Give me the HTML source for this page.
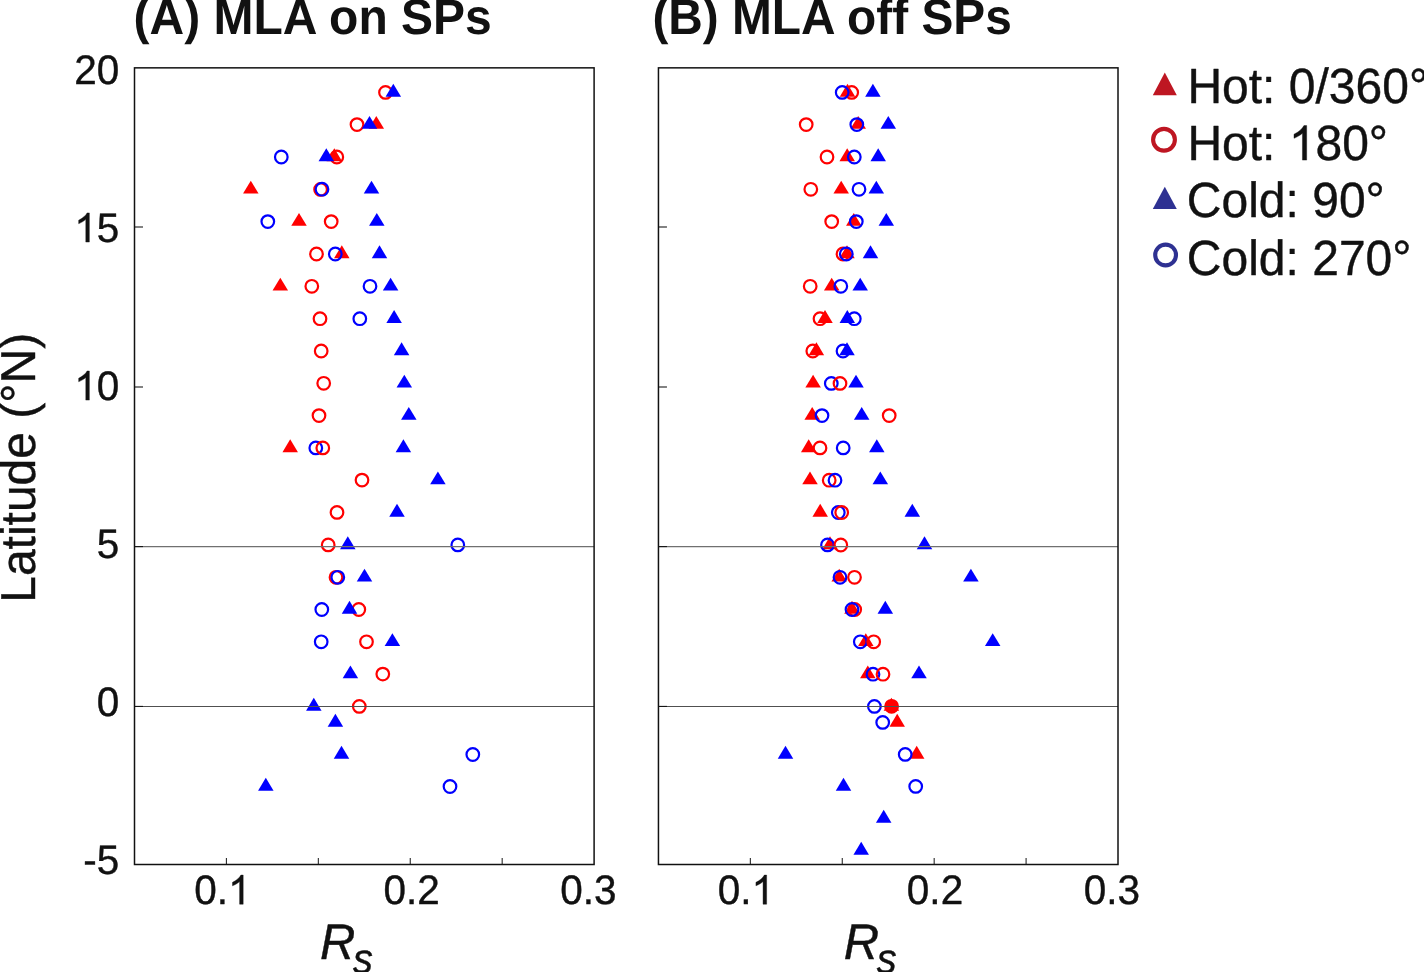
<!DOCTYPE html>
<html><head><meta charset="utf-8"><title>chart</title>
<style>html,body{margin:0;padding:0;background:#fff;overflow:hidden}body{width:1424px;height:972px;position:relative;font-family:"Liberation Sans",sans-serif}</style></head>
<body>
<svg width="1424" height="972" viewBox="0 0 1424 972" style="position:absolute;left:0;top:0;will-change:transform;font-family:'Liberation Sans',sans-serif" text-rendering="geometricPrecision">
<rect width="1424" height="972" fill="#ffffff"/>
<circle cx="385.50" cy="92.40" r="6.3" fill="none" stroke="#ff0000" stroke-width="2.2"/>
<polygon points="385.55,96.65 401.05,96.65 393.30,83.75" fill="#0000ff"/>
<polygon points="368.55,128.85 384.05,128.85 376.30,115.95" fill="#ff0000"/>
<circle cx="357.00" cy="124.60" r="6.3" fill="none" stroke="#ff0000" stroke-width="2.2"/>
<polygon points="361.75,128.85 377.25,128.85 369.50,115.95" fill="#0000ff"/>
<polygon points="326.55,161.25 342.05,161.25 334.30,148.35" fill="#ff0000"/>
<circle cx="336.80" cy="157.00" r="6.3" fill="none" stroke="#ff0000" stroke-width="2.2"/>
<polygon points="318.55,161.25 334.05,161.25 326.30,148.35" fill="#0000ff"/>
<circle cx="281.30" cy="157.00" r="6.3" fill="none" stroke="#0000ff" stroke-width="2.2"/>
<polygon points="243.05,193.55 258.55,193.55 250.80,180.65" fill="#ff0000"/>
<circle cx="320.60" cy="189.40" r="6.3" fill="none" stroke="#ff0000" stroke-width="2.2"/>
<polygon points="363.75,193.55 379.25,193.55 371.50,180.65" fill="#0000ff"/>
<circle cx="322.00" cy="189.20" r="6.3" fill="none" stroke="#0000ff" stroke-width="2.2"/>
<polygon points="291.25,225.85 306.75,225.85 299.00,212.95" fill="#ff0000"/>
<circle cx="331.20" cy="221.60" r="6.3" fill="none" stroke="#ff0000" stroke-width="2.2"/>
<polygon points="369.05,225.85 384.55,225.85 376.80,212.95" fill="#0000ff"/>
<circle cx="267.80" cy="221.60" r="6.3" fill="none" stroke="#0000ff" stroke-width="2.2"/>
<polygon points="334.05,258.25 349.55,258.25 341.80,245.35" fill="#ff0000"/>
<circle cx="316.50" cy="254.00" r="6.3" fill="none" stroke="#ff0000" stroke-width="2.2"/>
<polygon points="371.75,258.25 387.25,258.25 379.50,245.35" fill="#0000ff"/>
<circle cx="335.30" cy="254.00" r="6.3" fill="none" stroke="#0000ff" stroke-width="2.2"/>
<polygon points="272.55,290.55 288.05,290.55 280.30,277.65" fill="#ff0000"/>
<circle cx="311.80" cy="286.30" r="6.3" fill="none" stroke="#ff0000" stroke-width="2.2"/>
<polygon points="382.85,290.55 398.35,290.55 390.60,277.65" fill="#0000ff"/>
<circle cx="370.00" cy="286.30" r="6.3" fill="none" stroke="#0000ff" stroke-width="2.2"/>
<circle cx="320.00" cy="318.70" r="6.3" fill="none" stroke="#ff0000" stroke-width="2.2"/>
<polygon points="386.35,322.95 401.85,322.95 394.10,310.05" fill="#0000ff"/>
<circle cx="359.80" cy="318.70" r="6.3" fill="none" stroke="#0000ff" stroke-width="2.2"/>
<circle cx="321.20" cy="351.00" r="6.3" fill="none" stroke="#ff0000" stroke-width="2.2"/>
<polygon points="393.85,355.25 409.35,355.25 401.60,342.35" fill="#0000ff"/>
<circle cx="323.70" cy="383.30" r="6.3" fill="none" stroke="#ff0000" stroke-width="2.2"/>
<polygon points="396.55,387.55 412.05,387.55 404.30,374.65" fill="#0000ff"/>
<circle cx="319.00" cy="415.60" r="6.3" fill="none" stroke="#ff0000" stroke-width="2.2"/>
<polygon points="401.05,419.85 416.55,419.85 408.80,406.95" fill="#0000ff"/>
<polygon points="282.45,452.15 297.95,452.15 290.20,439.25" fill="#ff0000"/>
<circle cx="315.80" cy="447.90" r="6.3" fill="none" stroke="#0000ff" stroke-width="2.2"/>
<circle cx="322.80" cy="447.90" r="6.3" fill="none" stroke="#ff0000" stroke-width="2.2"/>
<polygon points="395.65,452.15 411.15,452.15 403.40,439.25" fill="#0000ff"/>
<circle cx="362.00" cy="480.10" r="6.3" fill="none" stroke="#ff0000" stroke-width="2.2"/>
<polygon points="430.15,484.35 445.65,484.35 437.90,471.45" fill="#0000ff"/>
<circle cx="337.00" cy="512.40" r="6.3" fill="none" stroke="#ff0000" stroke-width="2.2"/>
<polygon points="389.25,516.65 404.75,516.65 397.00,503.75" fill="#0000ff"/>
<circle cx="328.20" cy="544.90" r="6.3" fill="none" stroke="#ff0000" stroke-width="2.2"/>
<polygon points="340.05,549.15 355.55,549.15 347.80,536.25" fill="#0000ff"/>
<circle cx="457.80" cy="544.90" r="6.3" fill="none" stroke="#0000ff" stroke-width="2.2"/>
<circle cx="336.00" cy="577.30" r="6.3" fill="none" stroke="#ff0000" stroke-width="2.2"/>
<polygon points="356.75,581.55 372.25,581.55 364.50,568.65" fill="#0000ff"/>
<circle cx="337.80" cy="577.30" r="6.3" fill="none" stroke="#0000ff" stroke-width="2.2"/>
<circle cx="358.80" cy="609.50" r="6.3" fill="none" stroke="#ff0000" stroke-width="2.2"/>
<polygon points="341.75,613.75 357.25,613.75 349.50,600.85" fill="#0000ff"/>
<circle cx="321.80" cy="609.50" r="6.3" fill="none" stroke="#0000ff" stroke-width="2.2"/>
<circle cx="366.50" cy="641.80" r="6.3" fill="none" stroke="#ff0000" stroke-width="2.2"/>
<polygon points="384.65,646.05 400.15,646.05 392.40,633.15" fill="#0000ff"/>
<circle cx="321.20" cy="641.80" r="6.3" fill="none" stroke="#0000ff" stroke-width="2.2"/>
<circle cx="382.80" cy="674.10" r="6.3" fill="none" stroke="#ff0000" stroke-width="2.2"/>
<polygon points="342.65,678.35 358.15,678.35 350.40,665.45" fill="#0000ff"/>
<circle cx="359.30" cy="706.40" r="6.3" fill="none" stroke="#ff0000" stroke-width="2.2"/>
<polygon points="306.05,710.65 321.55,710.65 313.80,697.75" fill="#0000ff"/>
<polygon points="327.65,726.65 343.15,726.65 335.40,713.75" fill="#0000ff"/>
<polygon points="333.75,758.65 349.25,758.65 341.50,745.75" fill="#0000ff"/>
<circle cx="472.80" cy="754.50" r="6.3" fill="none" stroke="#0000ff" stroke-width="2.2"/>
<polygon points="258.05,790.75 273.55,790.75 265.80,777.85" fill="#0000ff"/>
<circle cx="450.00" cy="786.50" r="6.3" fill="none" stroke="#0000ff" stroke-width="2.2"/>
<line x1="134.5" y1="546.6" x2="594.1" y2="546.6" stroke="#707070" stroke-width="1.1"/>
<line x1="134.5" y1="706.45" x2="594.1" y2="706.45" stroke="#505050" stroke-width="1.1"/>
<line x1="226.42" y1="864.5" x2="226.42" y2="857.90" stroke="#2a2a2a" stroke-width="1.1"/>
<line x1="318.34" y1="864.5" x2="318.34" y2="857.90" stroke="#2a2a2a" stroke-width="1.1"/>
<line x1="410.26" y1="864.5" x2="410.26" y2="857.90" stroke="#2a2a2a" stroke-width="1.1"/>
<line x1="502.18" y1="864.5" x2="502.18" y2="857.90" stroke="#2a2a2a" stroke-width="1.1"/>
<line x1="134.5" y1="227.0" x2="143.0" y2="227.0" stroke="#111" stroke-width="1.05"/>
<line x1="134.5" y1="387.0" x2="143.0" y2="387.0" stroke="#111" stroke-width="1.05"/>
<line x1="134.5" y1="546.6" x2="143.0" y2="546.6" stroke="#111" stroke-width="1.05"/>
<line x1="134.5" y1="706.4" x2="143.0" y2="706.4" stroke="#111" stroke-width="1.05"/>
<rect x="134.5" y="67.85" width="459.60" height="796.65" fill="none" stroke="#111" stroke-width="1.5"/>
<text transform="translate(194.30,904.20) scale(1,1.02)" font-size="40.5" fill="#111" stroke="#111" stroke-width="0.4" stroke-linejoin="round">0.</text>
<path transform="translate(228.08,904.20) scale(0.01978,-0.01978)" d="M763 0H583V1147Q518 1085 412.5 1023Q307 961 223 930V1104Q374 1175 487 1276Q600 1377 647 1472H763Z" fill="#111" stroke="#111" stroke-width="0.4" vector-effect="non-scaling-stroke"/>
<text transform="translate(383.40,904.20) scale(1,1.02)" font-size="40.5" fill="#111" stroke="#111" stroke-width="0.4" stroke-linejoin="round">0.2</text>
<text transform="translate(560.30,904.20) scale(1,1.02)" font-size="40.5" fill="#111" stroke="#111" stroke-width="0.4" stroke-linejoin="round">0.3</text>
<polygon points="839.75,96.65 855.25,96.65 847.50,83.75" fill="#ff0000"/>
<circle cx="851.70" cy="92.40" r="6.3" fill="none" stroke="#ff0000" stroke-width="2.2"/>
<polygon points="865.15,96.65 880.65,96.65 872.90,83.75" fill="#0000ff"/>
<circle cx="842.20" cy="92.40" r="6.3" fill="none" stroke="#0000ff" stroke-width="2.2"/>
<circle cx="806.20" cy="124.60" r="6.3" fill="none" stroke="#ff0000" stroke-width="2.2"/>
<polygon points="850.45,128.85 865.95,128.85 858.20,115.95" fill="#ff0000"/>
<polygon points="880.55,128.85 896.05,128.85 888.30,115.95" fill="#0000ff"/>
<circle cx="856.80" cy="124.60" r="6.3" fill="none" stroke="#0000ff" stroke-width="2.2"/>
<circle cx="827.00" cy="157.00" r="6.3" fill="none" stroke="#ff0000" stroke-width="2.2"/>
<polygon points="839.45,161.25 854.95,161.25 847.20,148.35" fill="#ff0000"/>
<polygon points="870.45,161.25 885.95,161.25 878.20,148.35" fill="#0000ff"/>
<circle cx="854.30" cy="157.00" r="6.3" fill="none" stroke="#0000ff" stroke-width="2.2"/>
<circle cx="810.80" cy="189.30" r="6.3" fill="none" stroke="#ff0000" stroke-width="2.2"/>
<polygon points="833.45,193.55 848.95,193.55 841.20,180.65" fill="#ff0000"/>
<polygon points="868.55,193.55 884.05,193.55 876.30,180.65" fill="#0000ff"/>
<circle cx="859.00" cy="189.30" r="6.3" fill="none" stroke="#0000ff" stroke-width="2.2"/>
<circle cx="831.70" cy="221.60" r="6.3" fill="none" stroke="#ff0000" stroke-width="2.2"/>
<polygon points="846.05,225.85 861.55,225.85 853.80,212.95" fill="#ff0000"/>
<polygon points="878.55,225.85 894.05,225.85 886.30,212.95" fill="#0000ff"/>
<circle cx="856.30" cy="221.60" r="6.3" fill="none" stroke="#0000ff" stroke-width="2.2"/>
<circle cx="843.00" cy="254.00" r="6.3" fill="none" stroke="#ff0000" stroke-width="2.2"/>
<polygon points="839.25,258.25 854.75,258.25 847.00,245.35" fill="#ff0000"/>
<polygon points="862.75,258.25 878.25,258.25 870.50,245.35" fill="#0000ff"/>
<circle cx="846.30" cy="254.00" r="6.3" fill="none" stroke="#0000ff" stroke-width="2.2"/>
<circle cx="810.20" cy="286.30" r="6.3" fill="none" stroke="#ff0000" stroke-width="2.2"/>
<polygon points="823.95,290.55 839.45,290.55 831.70,277.65" fill="#ff0000"/>
<polygon points="852.45,290.55 867.95,290.55 860.20,277.65" fill="#0000ff"/>
<circle cx="840.80" cy="286.30" r="6.3" fill="none" stroke="#0000ff" stroke-width="2.2"/>
<circle cx="820.00" cy="318.70" r="6.3" fill="none" stroke="#ff0000" stroke-width="2.2"/>
<polygon points="817.25,322.95 832.75,322.95 825.00,310.05" fill="#ff0000"/>
<circle cx="854.30" cy="318.70" r="6.3" fill="none" stroke="#0000ff" stroke-width="2.2"/>
<polygon points="839.55,322.95 855.05,322.95 847.30,310.05" fill="#0000ff"/>
<circle cx="812.80" cy="351.00" r="6.3" fill="none" stroke="#ff0000" stroke-width="2.2"/>
<polygon points="808.65,355.25 824.15,355.25 816.40,342.35" fill="#ff0000"/>
<circle cx="843.00" cy="351.00" r="6.3" fill="none" stroke="#0000ff" stroke-width="2.2"/>
<polygon points="839.25,355.25 854.75,355.25 847.00,342.35" fill="#0000ff"/>
<polygon points="805.35,387.55 820.85,387.55 813.10,374.65" fill="#ff0000"/>
<circle cx="831.30" cy="383.40" r="6.3" fill="none" stroke="#0000ff" stroke-width="2.2"/>
<circle cx="840.00" cy="383.40" r="6.3" fill="none" stroke="#ff0000" stroke-width="2.2"/>
<polygon points="848.25,387.55 863.75,387.55 856.00,374.65" fill="#0000ff"/>
<polygon points="804.45,419.85 819.95,419.85 812.20,406.95" fill="#ff0000"/>
<circle cx="822.00" cy="415.60" r="6.3" fill="none" stroke="#0000ff" stroke-width="2.2"/>
<polygon points="853.95,419.85 869.45,419.85 861.70,406.95" fill="#0000ff"/>
<circle cx="889.20" cy="415.60" r="6.3" fill="none" stroke="#ff0000" stroke-width="2.2"/>
<polygon points="800.95,452.15 816.45,452.15 808.70,439.25" fill="#ff0000"/>
<circle cx="820.00" cy="447.90" r="6.3" fill="none" stroke="#ff0000" stroke-width="2.2"/>
<circle cx="843.20" cy="447.90" r="6.3" fill="none" stroke="#0000ff" stroke-width="2.2"/>
<polygon points="869.05,452.15 884.55,452.15 876.80,439.25" fill="#0000ff"/>
<polygon points="802.25,484.35 817.75,484.35 810.00,471.45" fill="#ff0000"/>
<circle cx="829.20" cy="480.20" r="6.3" fill="none" stroke="#ff0000" stroke-width="2.2"/>
<circle cx="835.00" cy="480.20" r="6.3" fill="none" stroke="#0000ff" stroke-width="2.2"/>
<polygon points="872.55,484.35 888.05,484.35 880.30,471.45" fill="#0000ff"/>
<polygon points="812.45,516.65 827.95,516.65 820.20,503.75" fill="#ff0000"/>
<circle cx="838.30" cy="512.50" r="6.3" fill="none" stroke="#0000ff" stroke-width="2.2"/>
<circle cx="841.70" cy="512.50" r="6.3" fill="none" stroke="#ff0000" stroke-width="2.2"/>
<polygon points="904.55,516.65 920.05,516.65 912.30,503.75" fill="#0000ff"/>
<polygon points="822.25,549.15 837.75,549.15 830.00,536.25" fill="#ff0000"/>
<circle cx="827.50" cy="544.90" r="6.3" fill="none" stroke="#0000ff" stroke-width="2.2"/>
<circle cx="840.80" cy="545.00" r="6.3" fill="none" stroke="#ff0000" stroke-width="2.2"/>
<polygon points="916.75,549.15 932.25,549.15 924.50,536.25" fill="#0000ff"/>
<polygon points="831.45,581.55 846.95,581.55 839.20,568.65" fill="#ff0000"/>
<circle cx="840.00" cy="577.30" r="6.3" fill="none" stroke="#0000ff" stroke-width="2.2"/>
<circle cx="854.50" cy="577.30" r="6.3" fill="none" stroke="#ff0000" stroke-width="2.2"/>
<polygon points="963.15,581.55 978.65,581.55 970.90,568.65" fill="#0000ff"/>
<circle cx="854.70" cy="609.50" r="6.3" fill="none" stroke="#ff0000" stroke-width="2.2"/>
<polygon points="844.25,613.75 859.75,613.75 852.00,600.85" fill="#ff0000"/>
<circle cx="852.00" cy="609.50" r="6.3" fill="none" stroke="#0000ff" stroke-width="2.2"/>
<polygon points="877.55,613.75 893.05,613.75 885.30,600.85" fill="#0000ff"/>
<polygon points="858.05,646.05 873.55,646.05 865.80,633.15" fill="#ff0000"/>
<circle cx="860.30" cy="641.80" r="6.3" fill="none" stroke="#0000ff" stroke-width="2.2"/>
<circle cx="873.70" cy="641.80" r="6.3" fill="none" stroke="#ff0000" stroke-width="2.2"/>
<polygon points="984.95,646.05 1000.45,646.05 992.70,633.15" fill="#0000ff"/>
<polygon points="860.05,678.35 875.55,678.35 867.80,665.45" fill="#ff0000"/>
<circle cx="873.00" cy="674.20" r="6.3" fill="none" stroke="#0000ff" stroke-width="2.2"/>
<circle cx="883.00" cy="674.20" r="6.3" fill="none" stroke="#ff0000" stroke-width="2.2"/>
<polygon points="911.25,678.35 926.75,678.35 919.00,665.45" fill="#0000ff"/>
<polygon points="883.65,710.65 899.15,710.65 891.40,697.75" fill="#ff0000"/>
<circle cx="891.60" cy="706.30" r="7.40" fill="#ff0000"/>
<circle cx="874.40" cy="706.40" r="6.3" fill="none" stroke="#0000ff" stroke-width="2.2"/>
<polygon points="889.45,726.65 904.95,726.65 897.20,713.75" fill="#ff0000"/>
<circle cx="882.70" cy="722.40" r="6.3" fill="none" stroke="#0000ff" stroke-width="2.2"/>
<polygon points="908.95,758.65 924.45,758.65 916.70,745.75" fill="#ff0000"/>
<circle cx="905.20" cy="754.40" r="6.3" fill="none" stroke="#0000ff" stroke-width="2.2"/>
<polygon points="777.75,758.65 793.25,758.65 785.50,745.75" fill="#0000ff"/>
<polygon points="835.75,790.75 851.25,790.75 843.50,777.85" fill="#0000ff"/>
<circle cx="915.70" cy="786.40" r="6.3" fill="none" stroke="#0000ff" stroke-width="2.2"/>
<polygon points="875.95,822.75 891.45,822.75 883.70,809.85" fill="#0000ff"/>
<polygon points="853.45,854.75 868.95,854.75 861.20,841.85" fill="#0000ff"/>
<line x1="658.45" y1="546.6" x2="1118.0" y2="546.6" stroke="#707070" stroke-width="1.1"/>
<line x1="658.45" y1="706.45" x2="1118.0" y2="706.45" stroke="#505050" stroke-width="1.1"/>
<line x1="750.36" y1="864.5" x2="750.36" y2="857.90" stroke="#2a2a2a" stroke-width="1.1"/>
<line x1="842.27" y1="864.5" x2="842.27" y2="857.90" stroke="#2a2a2a" stroke-width="1.1"/>
<line x1="934.18" y1="864.5" x2="934.18" y2="857.90" stroke="#2a2a2a" stroke-width="1.1"/>
<line x1="1026.09" y1="864.5" x2="1026.09" y2="857.90" stroke="#2a2a2a" stroke-width="1.1"/>
<line x1="658.45" y1="227.0" x2="666.95" y2="227.0" stroke="#111" stroke-width="1.05"/>
<line x1="658.45" y1="387.0" x2="666.95" y2="387.0" stroke="#111" stroke-width="1.05"/>
<line x1="658.45" y1="546.6" x2="666.95" y2="546.6" stroke="#111" stroke-width="1.05"/>
<line x1="658.45" y1="706.4" x2="666.95" y2="706.4" stroke="#111" stroke-width="1.05"/>
<rect x="658.45" y="67.85" width="459.55" height="796.65" fill="none" stroke="#111" stroke-width="1.5"/>
<text transform="translate(717.75,904.20) scale(1,1.02)" font-size="40.5" fill="#111" stroke="#111" stroke-width="0.4" stroke-linejoin="round">0.</text>
<path transform="translate(751.53,904.20) scale(0.01978,-0.01978)" d="M763 0H583V1147Q518 1085 412.5 1023Q307 961 223 930V1104Q374 1175 487 1276Q600 1377 647 1472H763Z" fill="#111" stroke="#111" stroke-width="0.4" vector-effect="non-scaling-stroke"/>
<text transform="translate(906.85,904.20) scale(1,1.02)" font-size="40.5" fill="#111" stroke="#111" stroke-width="0.4" stroke-linejoin="round">0.2</text>
<text transform="translate(1083.75,904.20) scale(1,1.02)" font-size="40.5" fill="#111" stroke="#111" stroke-width="0.4" stroke-linejoin="round">0.3</text>
<text transform="translate(74.26,84.00) scale(1,1.02)" font-size="40.5" fill="#111" stroke="#111" stroke-width="0.4" stroke-linejoin="round">20</text>
<path transform="translate(74.26,242.05) scale(0.01978,-0.01978)" d="M763 0H583V1147Q518 1085 412.5 1023Q307 961 223 930V1104Q374 1175 487 1276Q600 1377 647 1472H763Z" fill="#111" stroke="#111" stroke-width="0.4" vector-effect="non-scaling-stroke"/>
<text transform="translate(96.78,242.05) scale(1,1.02)" font-size="40.5" fill="#111" stroke="#111" stroke-width="0.4" stroke-linejoin="round">5</text>
<path transform="translate(74.26,400.10) scale(0.01978,-0.01978)" d="M763 0H583V1147Q518 1085 412.5 1023Q307 961 223 930V1104Q374 1175 487 1276Q600 1377 647 1472H763Z" fill="#111" stroke="#111" stroke-width="0.4" vector-effect="non-scaling-stroke"/>
<text transform="translate(96.78,400.10) scale(1,1.02)" font-size="40.5" fill="#111" stroke="#111" stroke-width="0.4" stroke-linejoin="round">0</text>
<text transform="translate(96.78,558.20) scale(1,1.02)" font-size="40.5" fill="#111" stroke="#111" stroke-width="0.4" stroke-linejoin="round">5</text>
<text transform="translate(96.78,716.20) scale(1,1.02)" font-size="40.5" fill="#111" stroke="#111" stroke-width="0.4" stroke-linejoin="round">0</text>
<text transform="translate(83.30,874.30) scale(1,1.02)" font-size="40.5" fill="#111" stroke="#111" stroke-width="0.4" stroke-linejoin="round">-5</text>
<text transform="translate(133.6,34.4) scale(1,1.04)" font-size="48" font-weight="bold" fill="#111">(A) MLA on SPs</text>
<text transform="translate(652.4,34.4) scale(0.996,1.04)" font-size="48" font-weight="bold" fill="#111">(B) MLA off SPs</text>
<text transform="translate(35.2,602.8) rotate(-90) scale(1,1.02)" font-size="48" fill="#111" stroke="#111" stroke-width="0.4">Latitude (°N)</text>
<text transform="translate(320.1,958.5) scale(1.02,1.045)" font-size="48" font-style="italic" fill="#111" stroke="#111" stroke-width="0.4">R</text>
<text transform="translate(353.10,973.4) scale(0.95,1)" font-size="42" font-style="italic" fill="#111" stroke="#111" stroke-width="0.4">s</text>
<text transform="translate(843.8,958.5) scale(1.02,1.045)" font-size="48" font-style="italic" fill="#111" stroke="#111" stroke-width="0.4">R</text>
<text transform="translate(876.80,973.4) scale(0.95,1)" font-size="42" font-style="italic" fill="#111" stroke="#111" stroke-width="0.4">s</text>
<polygon points="1152.8,95.2 1176.8,95.2 1164.8,72.6" fill="#be1622"/>
<circle cx="1164.0" cy="139.75" r="10.9" fill="none" stroke="#be1622" stroke-width="4.1"/>
<polygon points="1152.8,208.9 1176.8,208.9 1164.8,186.8" fill="#2e3192"/>
<circle cx="1165.6" cy="255" r="10.4" fill="none" stroke="#2e3192" stroke-width="4.1"/>
<text transform="translate(1187.40,102.90) scale(1,1.03)" font-size="48" fill="#111" stroke="#111" stroke-width="0.4" stroke-linejoin="round">Hot: 0/360°</text>
<text transform="translate(1187.40,160.10) scale(1,1.03)" font-size="48" fill="#111" stroke="#111" stroke-width="0.4" stroke-linejoin="round">Hot: </text>
<path transform="translate(1288.78,160.10) scale(0.02344,-0.02344)" d="M763 0H583V1147Q518 1085 412.5 1023Q307 961 223 930V1104Q374 1175 487 1276Q600 1377 647 1472H763Z" fill="#111" stroke="#111" stroke-width="0.4" vector-effect="non-scaling-stroke"/>
<text transform="translate(1315.46,160.10) scale(1,1.03)" font-size="48" fill="#111" stroke="#111" stroke-width="0.4" stroke-linejoin="round">80°</text>
<text transform="translate(1186.80,217.20) scale(1,1.03)" font-size="48" fill="#111" stroke="#111" stroke-width="0.4" stroke-linejoin="round">Cold: 90°</text>
<text transform="translate(1186.80,275.20) scale(1,1.03)" font-size="48" fill="#111" stroke="#111" stroke-width="0.4" stroke-linejoin="round">Cold: 270°</text>
</svg>
</body></html>
